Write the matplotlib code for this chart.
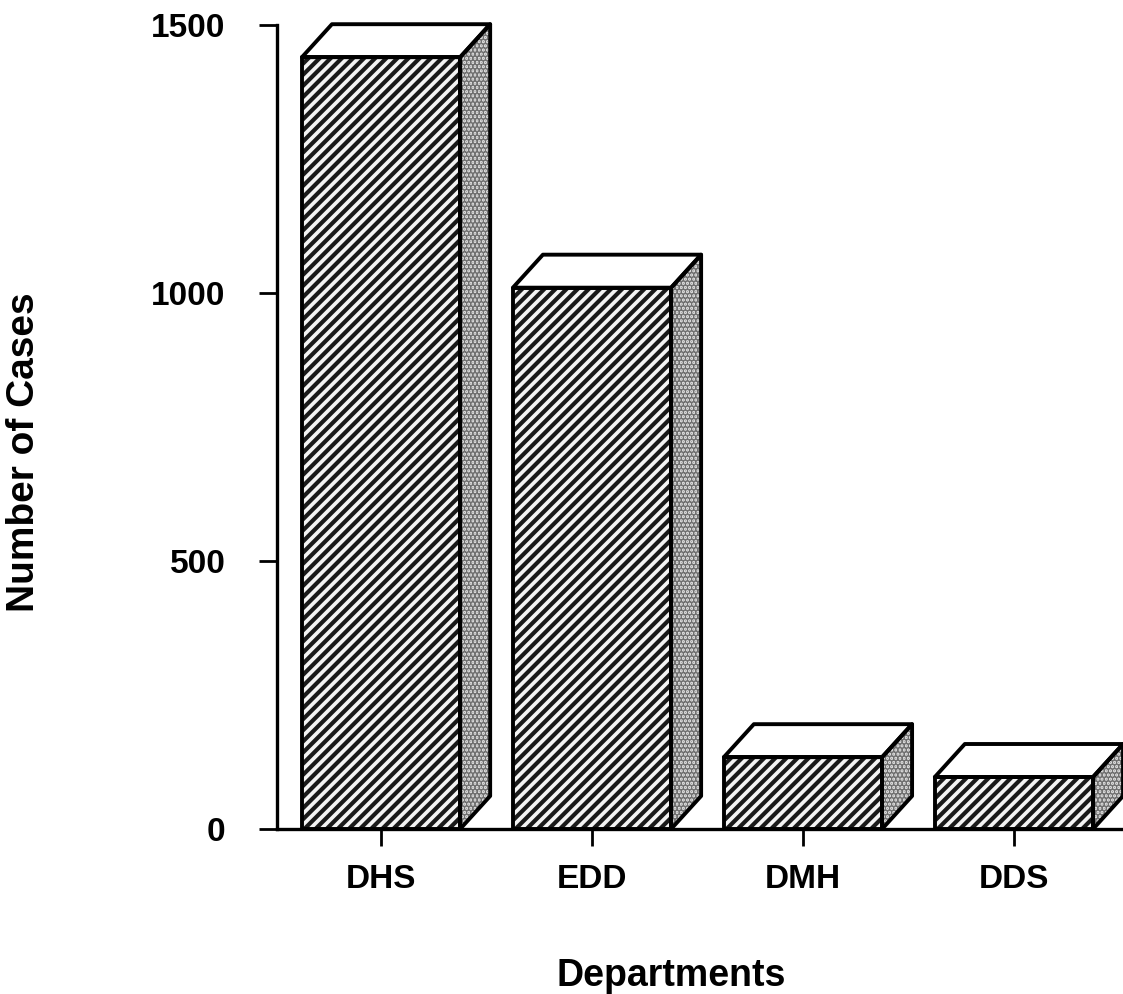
import matplotlib.pyplot as plt
from matplotlib.patches import Polygon

plt.rcParams["font.family"] = ["Liberation Sans", "DejaVu Sans"]
plt.rcParams["hatch.linewidth"] = 3.0

departments = ["DHS", "EDD", "DMH", "DDS"]
cases = [1440, 1010, 134, 97]
y_ticks = [0, 500, 1000, 1500]

fig = plt.figure(figsize=(11.23, 9.94), dpi=100)
ax = fig.add_axes([0.2467, 0.166, 0.7533, 0.8088])
ax.set_xlim(-0.493, 3.517)
ax.set_ylim(0, 1500)

# pseudo-3D depth, in pixels, converted to data units
depth_px = (30, 33)
bbox = ax.get_position()
x_per_px = (3.517 + 0.493) / (bbox.width * fig.get_figwidth() * fig.dpi)
y_per_px = 1500 / (bbox.height * fig.get_figheight() * fig.dpi)
dx = depth_px[0] * x_per_px
dy = depth_px[1] * y_per_px
width = 0.75

for i, v in enumerate(cases):
    x0, x1 = i - width / 2, i + width / 2
    front = [(x0, 0), (x1, 0), (x1, v), (x0, v)]
    side = [(x1, 0), (x1 + dx, dy), (x1 + dx, v + dy), (x1, v)]
    top = [(x0, v), (x1, v), (x1 + dx, v + dy), (x0 + dx, v + dy)]

    ax.add_patch(Polygon(front, closed=True, facecolor="#f4f4f4", edgecolor="#1a1a1a",
                         hatch="///", lw=0, clip_on=False, zorder=3))
    ax.add_patch(Polygon(side, closed=True, facecolor="#dadada", edgecolor="#707070",
                         hatch="....", lw=0, clip_on=False, zorder=3))
    ax.add_patch(Polygon(top, closed=True, facecolor="white", lw=0,
                         clip_on=False, zorder=3))
    for poly in (front, side, top):
        ax.add_patch(Polygon(poly, closed=True, fill=False, edgecolor="black",
                             lw=2.8, joinstyle="round", clip_on=False, zorder=4))

for s in ("top", "right"):
    ax.spines[s].set_visible(False)
for s in ("left", "bottom"):
    ax.spines[s].set_linewidth(2.4)
    ax.spines[s].set_zorder(5)

ax.set_yticks(y_ticks)
ax.set_yticklabels([str(t) for t in y_ticks])
ax.set_xticks(range(len(departments)))
ax.set_xticklabels(departments)
ax.tick_params(axis="y", direction="out", length=13, width=2, pad=24,
               labelsize=24)
ax.tick_params(axis="x", direction="out", length=12, width=2, pad=13,
               labelsize=24)
for lab in ax.get_xticklabels() + ax.get_yticklabels():
    lab.set_fontweight("bold")

ax.set_xlabel("Departments", fontsize=27, fontweight="bold")
ax.set_ylabel("Number of Cases", fontsize=28, fontweight="bold")
ax.xaxis.set_label_coords(0.466, -0.161)
ax.yaxis.set_label_coords(-0.278, 0.469)

fig.savefig("out.png", dpi=100)
